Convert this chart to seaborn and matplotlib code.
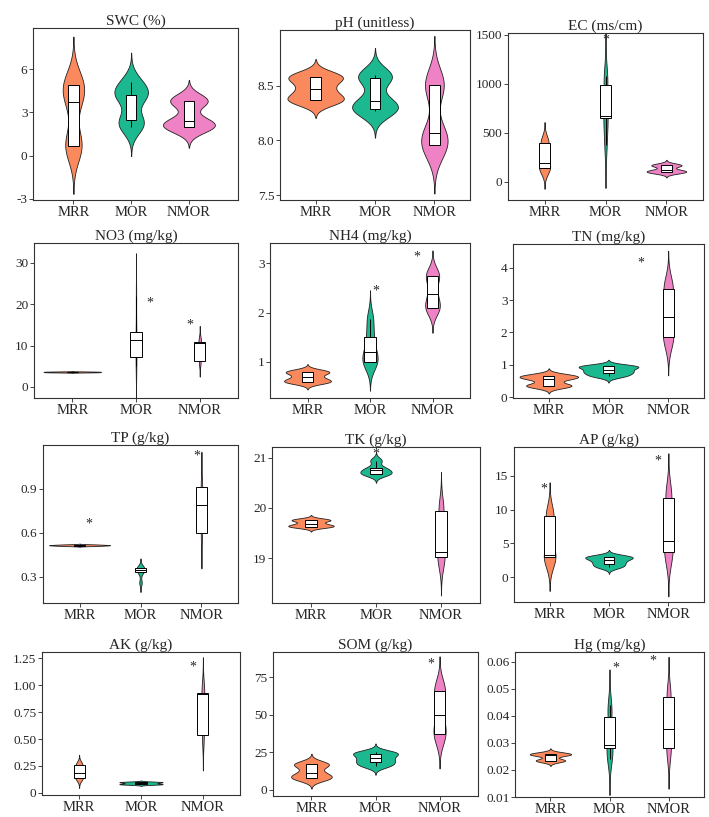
import numpy as np
import pandas as pd
import seaborn as sns
import matplotlib.pyplot as plt

# soil properties by site type, violin + box per panel
groups = ['MRR', 'MOR', 'NMOR']
palette = {'MRR': '#FA8A5E', 'MOR': '#1CB88F', 'NMOR': '#EE82C4'}

swc = {'MRR': [0.7, 0.7, 3.7, 4.9, 4.9], 'MOR': [2.0, 2.5, 4.2, 4.2, 5.1], 'NMOR': [2.0, 2.0, 2.4, 3.8, 3.8]}
ph = {'MRR': [8.37, 8.37, 8.47, 8.58, 8.58], 'MOR': [8.27, 8.29, 8.36, 8.57, 8.60], 'NMOR': [7.96, 7.96, 8.07, 8.51, 8.51]}
ec = {'MRR': [140, 140, 190, 400, 400], 'MOR': [380, 650, 670, 990, 1080], 'NMOR': [100, 100, 120, 170, 170]}
no3 = {'MRR': [3.5, 3.55, 3.6, 3.65, 3.7], 'MOR': [5.0, 7.2, 11.3, 13.3, 22.0], 'NMOR': [6.3, 6.3, 10.5, 10.9, 10.9]}
nh4 = {'MRR': [0.6, 0.6, 0.69, 0.8, 0.8], 'MOR': [1.0, 1.0, 1.2, 1.5, 1.87], 'NMOR': [2.1, 2.1, 2.38, 2.75, 2.75]}
tn = {'MRR': [0.35, 0.35, 0.56, 0.65, 0.65], 'MOR': [0.65, 0.75, 0.83, 0.95, 0.95], 'NMOR': [1.85, 1.85, 2.47, 3.35, 3.35]}
tp = {'MRR': [0.51, 0.513, 0.515, 0.517, 0.52], 'MOR': [0.26, 0.33, 0.345, 0.36, 0.36], 'NMOR': [0.6, 0.6, 0.79, 0.91, 0.91]}
tk = {'MRR': [19.63, 19.63, 19.68, 19.76, 19.76], 'MOR': [20.68, 20.68, 20.75, 20.8, 20.95], 'NMOR': [19.02, 19.02, 19.13, 19.95, 19.95]}
ap = {'MRR': [3.0, 3.0, 3.3, 9.0, 9.0], 'MOR': [1.5, 2.0, 2.5, 3.0, 3.0], 'NMOR': [3.7, 3.7, 5.3, 11.8, 11.8]}
ak = {'MRR': [0.14, 0.14, 0.185, 0.26, 0.26], 'MOR': [0.08, 0.08, 0.09, 0.10, 0.10], 'NMOR': [0.54, 0.54, 0.92, 0.93, 0.93]}
som = {'MRR': [8, 8, 11.5, 17, 17], 'MOR': [16, 18.5, 21, 24, 25], 'NMOR': [37, 37, 49.5, 66, 66]}
hg = {'MRR': [0.0235, 0.0235, 0.0255, 0.026, 0.026], 'MOR': [0.024, 0.028, 0.0292, 0.0398, 0.044], 'NMOR': [0.028, 0.028, 0.0353, 0.047, 0.047]}

titles = ['SWC (%)', 'pH (unitless)', 'EC (ms/cm)', 'NO3 (mg/kg)', 'NH4 (mg/kg)', 'TN (mg/kg)',
          'TP (g/kg)', 'TK (g/kg)', 'AP (g/kg)', 'AK (g/kg)', 'SOM (g/kg)', 'Hg (mg/kg)']
datasets = [swc, ph, ec, no3, nh4, tn, tp, tk, ap, ak, som, hg]

yticks = [[-3, 0, 3, 6], [7.5, 8.0, 8.5], [0, 500, 1000, 1500], [0, 10, 20, 30], [1, 2, 3], [0, 1, 2, 3, 4],
          [0.3, 0.6, 0.9], [19, 20, 21], [0, 5, 10, 15], [0, 0.25, 0.5, 0.75, 1.0, 1.25], [0, 25, 50, 75],
          [0.01, 0.02, 0.03, 0.04, 0.05, 0.06]]
ytick_labels = [['-3', '0', '3', '6'], ['7.5', '8.0', '8.5'], ['0', '500', '1000', '1500'], ['0', '10', '20', '30'],
                ['1', '2', '3'], ['0', '1', '2', '3', '4'], ['0.3', '0.6', '0.9'], ['19', '20', '21'],
                ['0', '5', '10', '15'], ['0', '0.25', '0.50', '0.75', '1.00', '1.25'], ['0', '25', '50', '75'],
                ['0.01', '0.02', '0.03', '0.04', '0.05', '0.06']]

# significance stars: (group, height)
stars = [[], [], [('MOR', 1480)], [('MOR', 21), ('NMOR', 15.8)], [('MOR', 2.5), ('NMOR', 3.2)], [('NMOR', 4.25)],
         [('MRR', 0.68), ('NMOR', 1.15)], [('MOR', 21.15)], [('MRR', 13.5), ('NMOR', 17.7)], [('NMOR', 1.2)],
         [('NMOR', 86)], [('MOR', 0.059), ('NMOR', 0.0615)]]
star_dx = [[], [], [0], [0.22, -0.15], [0.1, -0.25], [-0.45], [0.16, -0.08], [0], [-0.1, -0.18], [-0.17],
           [-0.13], [0.1, -0.27]]

ylims = [(-3.07, 8.84), (7.455, 9.01), (-185, 1520), (-2.7, 34.8), (0.27, 3.41), (-0.03, 4.74),
         (0.12, 1.2), (18.1, 21.22), (-3.7, 19.3), (-0.02, 1.31), (-4, 91.6), (0.01, 0.0637)]
xlims = [(-0.7, 2.85)] + [(-0.6, 2.6)] * 11
vwidth = [0.9, 0.95, 0.65, 0.9, 0.75, 1.0, 1.0, 0.7, 0.8, 0.7, 0.7, 0.7]

# axes boxes in pixels: left, right, top, bottom
boxes = [(33, 238, 28, 200), (280, 470, 30, 200), (508, 703, 33, 200),
         (34, 238, 243, 398), (270, 470, 243, 398), (513, 704, 244, 398),
         (43, 238, 445, 603), (272, 480, 447, 603), (514, 704, 447, 602),
         (42, 240, 652, 795), (273, 478, 652, 796), (515, 704, 652, 797)]

sns.set_style('ticks')
plt.rcParams['font.family'] = ['Liberation Serif', 'DejaVu Serif']

W, H = 709, 817
fig = plt.figure(figsize=(W / 100, H / 100), dpi=100)

for i, name in enumerate(titles):
    d = datasets[i]
    df = pd.DataFrame({'group': np.repeat(groups, [len(d[g]) for g in groups]),
                       'value': np.concatenate([d[g] for g in groups])})
    l, r, t, b = boxes[i]
    ax = fig.add_axes([l / W, 1 - b / H, (r - l) / W, (b - t) / H])
    sns.violinplot(data=df, x='group', y='value', hue='group', order=groups, hue_order=groups,
                   palette=palette, inner=None, cut=3, bw_adjust=0.72, width=vwidth[i],
                   density_norm='area', common_norm=True,
                   linewidth=0.6, linecolor='#222222', saturation=1, legend=False, ax=ax)
    sns.boxplot(data=df, x='group', y='value', order=groups, width=0.18, color='white',
                linecolor='black', linewidth=0.7, showcaps=False, showfliers=False,
                saturation=1, ax=ax)
    for (g, yv), dx in zip(stars[i], star_dx[i]):
        ax.annotate('*', xy=(groups.index(g) + dx, yv), xytext=(0, -5), textcoords='offset points',
                    ha='center', va='baseline', fontsize=10)
    ax.set_ylim(*ylims[i])
    ax.set_xlim(*xlims[i])
    ax.set_yticks(yticks[i])
    ax.set_yticklabels(ytick_labels[i])
    ax.set_xlabel('')
    ax.set_ylabel('')
    ax.set_title(name, fontsize=11, pad=2)
    ax.tick_params(axis='y', labelsize=9.5, length=3, width=0.6, pad=1)
    ax.tick_params(axis='x', labelsize=10.5, length=3, width=0.6, pad=1)
    for s in ax.spines.values():
        s.set_linewidth(0.8)
        s.set_color('#333333')

fig.savefig('out.png', dpi=100, facecolor='white')
